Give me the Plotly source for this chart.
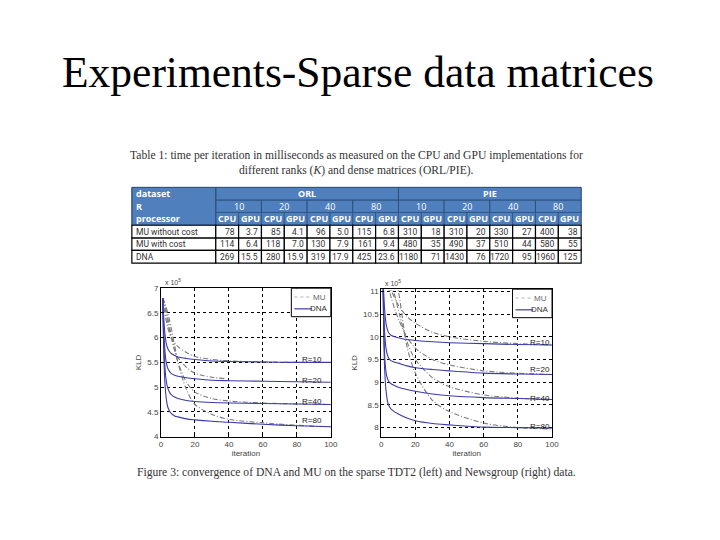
import plotly.graph_objects as go

W, H = 720, 540

# ---------------- data ----------------
# Table 1
datasets = ["ORL", "PIE"]
ranks = ["10", "20", "40", "80"]
processors = ["CPU", "GPU"]
row_labels = ["MU without cost", "MU with cost", "DNA"]
mu_without_cost = ["78", "3.7", "85", "4.1", "96", "5.0", "115", "6.8",
                   "310", "18", "310", "20", "330", "27", "400", "38"]
mu_with_cost = ["114", "6.4", "118", "7.0", "130", "7.9", "161", "9.4",
                "480", "35", "490", "37", "510", "44", "580", "55"]
dna_time = ["269", "15.5", "280", "15.9", "319", "17.9", "425", "23.6",
            "1180", "71", "1430", "76", "1720", "95", "1960", "125"]

# Left chart (TDT2), KLD x 10^5
dna_iter = [1, 2, 3, 4, 5, 6, 8, 10, 15, 20, 30, 40, 60, 80, 100]
tdt2_dna_r10 = [6.8, 6.2, 5.9, 5.78, 5.72, 5.68, 5.64, 5.61, 5.58, 5.56, 5.53, 5.52, 5.51, 5.5, 5.5]
tdt2_dna_r20 = [6.8, 5.9, 5.52, 5.38, 5.32, 5.28, 5.24, 5.22, 5.19, 5.17, 5.14, 5.13, 5.12, 5.11, 5.1]
tdt2_dna_r40 = [6.8, 5.6, 5.15, 4.98, 4.9, 4.85, 4.8, 4.77, 4.73, 4.71, 4.69, 4.68, 4.67, 4.66, 4.65]
tdt2_dna_r80 = [6.8, 5.3, 4.8, 4.6, 4.52, 4.47, 4.42, 4.4, 4.36, 4.34, 4.31, 4.29, 4.25, 4.22, 4.2]

mu_iter = [1, 2, 4, 6, 8, 10, 15, 20, 30, 40, 60, 80, 100]
tdt2_mu_r10 = [6.8, 6.55, 6.2, 6.0, 5.9, 5.82, 5.7, 5.62, 5.56, 5.53, 5.51, 5.5, 5.5]
tdt2_mu_r20_iter = [1, 2, 4, 6, 8, 10, 15, 20, 30, 38]
tdt2_mu_r20 = [6.8, 6.65, 6.3, 6.0, 5.75, 5.6, 5.4, 5.28, 5.2, 5.17]
tdt2_mu_r40 = [6.8, 6.7, 6.4, 6.05, 5.75, 5.5, 5.1, 4.9, 4.77, 4.72, 4.68, 4.66, 4.65]
tdt2_mu_r80 = [6.8, 6.72, 6.5, 6.2, 5.85, 5.5, 4.95, 4.65, 4.45, 4.35, 4.28, 4.23, 4.2]

# Right chart (Newsgroup), KLD x 10^5
news_dna_r10 = [11.4, 10.6, 10.25, 10.12, 10.06, 10.03, 10.0, 9.98, 9.94, 9.92, 9.89, 9.87, 9.85, 9.83, 9.82]
news_dna_r20 = [11.4, 10.1, 9.7, 9.56, 9.5, 9.47, 9.44, 9.42, 9.36, 9.32, 9.28, 9.25, 9.2, 9.18, 9.17]
news_dna_r40 = [11.4, 9.6, 9.18, 9.05, 8.99, 8.96, 8.92, 8.89, 8.84, 8.8, 8.74, 8.7, 8.66, 8.64, 8.62]
news_dna_r80 = [11.4, 9.3, 8.75, 8.53, 8.45, 8.4, 8.34, 8.3, 8.21, 8.15, 8.09, 8.06, 8.01, 8.0, 7.99]

news_mu_r10 = [11.6, 11.4, 11.15, 11.0, 10.85, 10.7, 10.45, 10.3, 10.1, 10.0, 9.9, 9.85, 9.82]
news_mu_r20 = [11.6, 11.4, 11.1, 10.85, 10.6, 10.4, 10.0, 9.75, 9.5, 9.38, 9.25, 9.2, 9.17]
news_mu_r40 = [11.8, 11.6, 11.3, 11.1, 10.9, 10.6, 9.9, 9.5, 9.1, 8.9, 8.72, 8.65, 8.62]
news_mu_r80 = [12.0, 11.8, 11.6, 11.4, 11.2, 11.0, 9.8, 9.2, 8.6, 8.35, 8.1, 8.0, 7.97]

rank_labels = ["R=10", "R=20", "R=40", "R=80"]
tdt2_label_y = [5.56, 5.13, 4.72, 4.32]
news_label_y = [9.87, 9.28, 8.65, 8.02]

# ---------------- helpers ----------------
def px(x):
    return x / W

def py(y):
    return 1 - y / H

fig = go.Figure()

DNA_COLOR = "#3b3ba8"
MU_COLOR = "#7a7a7a"
MU_DASH = "5px,2px,1px,2px"

def add_curve(x, y, xa, ya, color, dash):
    fig.add_trace(go.Scatter(x=x, y=y, mode="lines", xaxis=xa, yaxis=ya,
                             line=dict(color=color, width=1.1, dash=dash,
                                       shape="spline", smoothing=0.8),
                             showlegend=False, hoverinfo="skip"))

for ys in [tdt2_mu_r10, tdt2_mu_r40, tdt2_mu_r80]:
    add_curve(mu_iter, ys, "x", "y", MU_COLOR, MU_DASH)
add_curve(tdt2_mu_r20_iter, tdt2_mu_r20, "x", "y", MU_COLOR, MU_DASH)
for ys in [tdt2_dna_r10, tdt2_dna_r20, tdt2_dna_r40, tdt2_dna_r80]:
    add_curve(dna_iter, ys, "x", "y", DNA_COLOR, "solid")

for ys in [news_mu_r10, news_mu_r20, news_mu_r40, news_mu_r80]:
    add_curve(mu_iter, ys, "x2", "y2", MU_COLOR, MU_DASH)
for ys in [news_dna_r10, news_dna_r20, news_dna_r40, news_dna_r80]:
    add_curve(dna_iter, ys, "x2", "y2", DNA_COLOR, "solid")

SANS = "Liberation Sans, Arial"
tickfont = dict(family=SANS, size=8, color="#444")
axis_common = dict(showline=True, mirror=True, linecolor="black", linewidth=1,
                   showgrid=True, gridcolor="black", griddash="dot", gridwidth=0.8,
                   zeroline=False, ticks="inside", ticklen=3, tickcolor="black",
                   tickfont=tickfont)
title_font = dict(family=SANS, size=8, color="#444")

fig.update_layout(
    width=W, height=H, margin=dict(l=0, r=0, t=0, b=0),
    paper_bgcolor="white", plot_bgcolor="white", showlegend=False,
    xaxis=dict(domain=[px(161), px(333)], range=[0, 100], dtick=20, anchor="y",
               title=dict(text="iteration", font=title_font, standoff=2), **axis_common),
    yaxis=dict(domain=[py(440), py(289)], range=[4, 7], dtick=0.5, anchor="x",
               title=dict(text="KLD", font=title_font, standoff=4), **axis_common),
    xaxis2=dict(domain=[px(384), px(557)], range=[0, 100], dtick=20, anchor="y2",
                title=dict(text="iteration", font=title_font, standoff=2), **axis_common),
    yaxis2=dict(domain=[py(440), py(290)], range=[7.8, 11.05], tickvals=[8, 8.5, 9, 9.5, 10, 10.5, 11],
                anchor="x2", title=dict(text="KLD", font=title_font, standoff=4), **axis_common),
)

annotations = []
shapes = []

def text(x, y, s, font, anchor="center"):
    annotations.append(dict(x=px(x), y=py(y), xref="paper", yref="paper", text=s, showarrow=False,
                            xanchor=anchor, yanchor="middle", font=font))

# rank labels inside charts
for lab, yv in zip(rank_labels, tdt2_label_y):
    annotations.append(dict(x=89, y=yv, xref="x", yref="y", text=lab, showarrow=False,
                            font=dict(family=SANS, size=8, color="#222")))
for lab, yv in zip(rank_labels, news_label_y):
    annotations.append(dict(x=93, y=yv, xref="x2", yref="y2", text=lab, showarrow=False,
                            font=dict(family=SANS, size=8, color="#222")))

# exponent labels
for xp, ypx in [(163, 283), (386, 284)]:
    text(xp, ypx, "x 10<sup>5</sup>", dict(family=SANS, size=7, color="#444"), "left")

# manual legends
for (x0, y0, x1, y1) in [(293, 289, 333, 318), (517, 290, 557, 319)]:
    shapes.append(dict(type="rect", xref="paper", yref="paper", x0=px(x0), x1=px(x1),
                       y0=py(y1), y1=py(y0), line=dict(color="black", width=1), fillcolor="white"))
    shapes.append(dict(type="line", xref="paper", yref="paper", x0=px(x0 + 3), x1=px(x0 + 19),
                       y0=py(y0 + 9), y1=py(y0 + 9), line=dict(color="#b0b0b0", width=1, dash="dot")))
    shapes.append(dict(type="line", xref="paper", yref="paper", x0=px(x0 + 3), x1=px(x0 + 21),
                       y0=py(y0 + 21), y1=py(y0 + 21), line=dict(color=DNA_COLOR, width=1.2)))
    text(x1 - 3, y0 + 9, "MU", dict(family=SANS, size=8, color="#666"), "right")
    text(x1 - 1, y0 + 21, "DNA", dict(family=SANS, size=8, color="#333"), "right")

# Title
text(360, 69, "Experiments-Sparse data matrices",
     dict(family="Liberation Serif, Times New Roman", size=43.5, color="black"), "center")

# Table caption
cap_font = dict(family="Liberation Serif, Times New Roman", size=11.6, color="#333")
text(359, 154, "Table 1: time per iteration in milliseconds as measured on the CPU and GPU implementations for",
     cap_font, "center")
text(359, 169, "different ranks (<i>K</i>) and dense matrices (ORL/PIE).", cap_font, "center")

# Figure caption
text(359, 476, "Figure 3: convergence of DNA and MU on the sparse TDT2 (left) and Newsgroup (right) data.",
     dict(family="Liberation Serif, Times New Roman", size=11.6, color="#333"), "center")

# ---------------- table ----------------
T_LEFT, LABEL_RIGHT, T_RIGHT = 131.5, 216.5, 586.5
row_edges = [186.5, 199.5, 212, 225, 238, 250.5, 263.5]
ncol = len(datasets) * len(ranks) * len(processors)
cw = (T_RIGHT - LABEL_RIGHT) / ncol
col_edges = [LABEL_RIGHT + i * cw for i in range(ncol + 1)]
BLUE = "#4f7fbd"
hdr_line = "#2b4a73"
hfont = dict(family="Open Sans, Liberation Sans", size=9, color="white")
dfont = dict(family="Roboto, Liberation Sans", size=8.5, color="#333")

def rect(x0, y0, x1, y1, fill, lc, lw):
    shapes.append(dict(type="rect", xref="paper", yref="paper", x0=px(x0), x1=px(x1),
                       y0=py(y1), y1=py(y0), fillcolor=fill, line=dict(color=lc, width=lw), layer="below"))

rect(T_LEFT, row_edges[0], T_RIGHT, row_edges[3], BLUE, hdr_line, 0.8)
text(T_LEFT + 2, (row_edges[0] + row_edges[1]) / 2, "<b>dataset</b>", hfont, "left")
per_ds = len(ranks) * len(processors)
for i, ds in enumerate(datasets):
    x0 = col_edges[i * per_ds]
    x1 = col_edges[(i + 1) * per_ds]
    rect(x0, row_edges[0], x1, row_edges[1], BLUE, hdr_line, 0.8)
    text((x0 + x1) / 2, (row_edges[0] + row_edges[1]) / 2, "<b>%s</b>" % ds, hfont, "center")
text(T_LEFT + 2, (row_edges[1] + row_edges[2]) / 2, "<b>R</b>", hfont, "left")
for i in range(len(datasets) * len(ranks)):
    x0 = col_edges[i * 2]
    x1 = col_edges[i * 2 + 2]
    rect(x0, row_edges[1], x1, row_edges[2], BLUE, hdr_line, 0.8)
    text((x0 + x1) / 2, (row_edges[1] + row_edges[2]) / 2, ranks[i % len(ranks)], hfont, "center")
text(T_LEFT + 2, (row_edges[2] + row_edges[3]) / 2, "<b>processor</b>", hfont, "left")
for i in range(ncol):
    rect(col_edges[i], row_edges[2], col_edges[i + 1], row_edges[3], BLUE, hdr_line, 0.6)
    text((col_edges[i] + col_edges[i + 1]) / 2, (row_edges[2] + row_edges[3]) / 2,
         "<b>%s</b>" % processors[i % 2], hfont, "center")
rect(T_LEFT, row_edges[0], LABEL_RIGHT, row_edges[3], "rgba(0,0,0,0)", hdr_line, 0.8)

for r, (lab, vals) in enumerate(zip(row_labels, [mu_without_cost, mu_with_cost, dna_time])):
    y0, y1 = row_edges[3 + r], row_edges[4 + r]
    rect(T_LEFT, y0, LABEL_RIGHT, y1, "white", "black", 1.2)
    text(T_LEFT + 2, (y0 + y1) / 2, lab, dfont, "left")
    for c, v in enumerate(vals):
        rect(col_edges[c], y0, col_edges[c + 1], y1, "white", "black", 1.2)
        text(col_edges[c + 1] - 1.5, (y0 + y1) / 2, v, dfont, "right")

fig.update_layout(annotations=annotations, shapes=shapes)
fig.write_html("out.html", config={"displayModeBar": False},
               post_script="document.body.style.margin='0px';")
